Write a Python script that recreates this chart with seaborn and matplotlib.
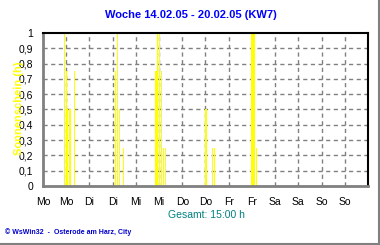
import numpy as np
import pandas as pd
import matplotlib
matplotlib.use("Agg")
import matplotlib.pyplot as plt
from matplotlib.lines import Line2D
from matplotlib.ticker import MultipleLocator, FixedLocator
import seaborn as sns

# ---- data (hour of week, sunshine hours) ----
hours = [11.2, 12.25, 12.9, 13.6, 14.3, 16.4,
         37.4, 38.4, 39.4, 41.5,
         58.4, 58.9, 59.3, 60.1, 61.2, 62.2, 63.2,
         84.1, 84.6, 85.3, 87.5, 88.5,
         107.6, 108.1, 108.9, 109.4, 110.3]
sunshine = [1.0, 0.75, 0.5, 0.5, 0.5, 0.75,
            0.75, 1.0, 0.5, 0.25,
            0.75, 0.75, 1.0, 1.0, 0.75, 0.25, 0.25,
            0.5, 0.5, 0.75, 0.25, 0.25,
            1.0, 1.0, 1.0, 1.0, 0.25]
tick_hours = list(range(0, 168, 12))
tick_labels = ["Mo", "Mo", "Di", "Di", "Mi", "Mi", "Do", "Do",
               "Fr", "Fr", "Sa", "Sa", "So", "So"]
y_ticks = [round(0.1 * i, 1) for i in range(11)]
y_labels = ["0", "0,1", "0,2", "0,3", "0,4", "0,5", "0,6", "0,7", "0,8", "0,9", "1"]
title = "Woche 14.02.05 - 20.02.05 (KW7)"
total_text = "Gesamt: 15:00 h"
footer = "\u00a9 WsWin32  -  Osterode am Harz, City"
ylabel = "Sonnenschein (h)"

sns.set_style("white")
plt.rcParams["font.family"] = ["Liberation Sans", "DejaVu Sans"]

df = pd.DataFrame({"hour": hours, "sun": sunshine})

fig = plt.figure(figsize=(3.8, 2.45), dpi=100)
ax = fig.add_axes([43 / 380, 1 - 186 / 245, 325 / 380, 153 / 245])

min_gap = np.min(np.diff(np.unique(df["hour"])))
bar_w = 0.5  # hours
sns.barplot(data=df, x="hour", y="sun", native_scale=True,
            width=bar_w / min_gap, color="#ffff00", saturation=1,
            edgecolor="none", linewidth=0, errorbar=None, ax=ax, zorder=3)

ax.set_xlim(0, 168)
ax.set_ylim(0, 1)
ax.xaxis.set_major_locator(FixedLocator(tick_hours))
ax.set_xticklabels(tick_labels)
ax.xaxis.set_minor_locator(MultipleLocator(3))
ax.yaxis.set_major_locator(FixedLocator(y_ticks))
ax.set_yticklabels(y_labels)
ax.yaxis.set_minor_locator(MultipleLocator(0.02))
ax.set_xlabel("")
ax.set_ylabel("")

ax.tick_params(axis="both", which="major", direction="out", length=4,
               width=1, color="#808080", labelsize=7.5, pad=3, labelcolor="black")
ax.tick_params(axis="both", which="minor", direction="out", length=2,
               width=1, color="#808080")
ax.tick_params(axis="x", which="major", pad=4)

# grid lines
for h in tick_hours[1:]:
    ax.axvline(h, color="#808080", lw=1, ls=(0, (3, 2.5)), zorder=1)
for y in y_ticks[1:-1]:
    ax.axhline(y, color="#808080", lw=1, ls=(0, (3, 2.5)), zorder=1)

for side in ["left", "bottom"]:
    ax.spines[side].set_color("#808080")
    ax.spines[side].set_linewidth(2)
for side in ["top", "right"]:
    ax.spines[side].set_color("black")
    ax.spines[side].set_linewidth(1.5)
for s in ax.spines.values():
    s.set_visible(True)
    s.set_zorder(4)

fig.text(191 / 380, 1 - 15 / 245, title, ha="center", va="center",
         color="#0000ff", fontsize=8, fontweight="bold")
fig.text(206 / 380, 1 - 215 / 245, total_text, ha="center", va="center",
         color="#008080", fontsize=7.5)
fig.text(5 / 380, 1 - 232 / 245, footer, ha="left", va="center",
         color="#0000cc", fontsize=5, fontweight="bold")
fig.text(19 / 380, 1 - 108 / 245, ylabel, ha="center", va="center",
         rotation=90, color="#ffff00", fontsize=8, fontweight="bold")

# figure frame (right and bottom)
fig.add_artist(Line2D([378.5 / 380, 378.5 / 380], [0, 1], transform=fig.transFigure,
                      color="#808080", lw=1.5))
fig.add_artist(Line2D([0, 1], [1.5 / 245, 1.5 / 245], transform=fig.transFigure,
                      color="#808080", lw=1.5))

fig.savefig("out.png", dpi=100)
